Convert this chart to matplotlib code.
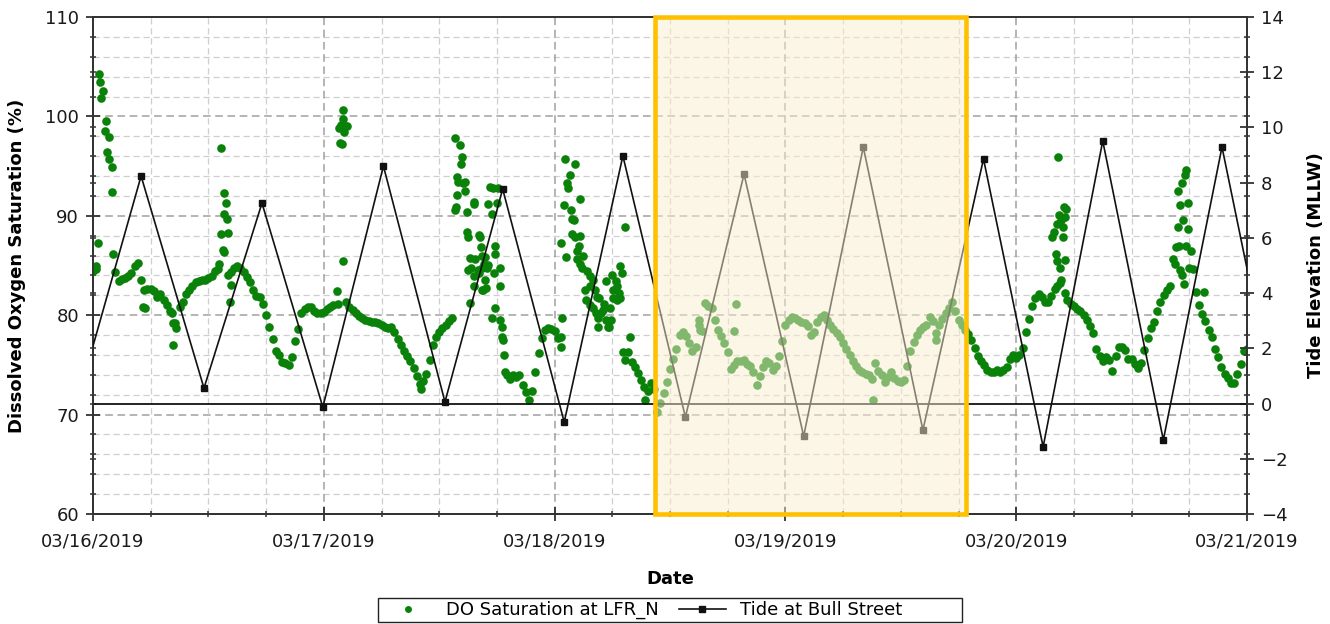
import datetime as dt
import numpy as np
import matplotlib
matplotlib.use("Agg")
import matplotlib.pyplot as plt
import matplotlib.dates as mdates
import matplotlib.transforms as mtransforms
from matplotlib.patches import Rectangle
from matplotlib.lines import Line2D
from matplotlib.ticker import FixedLocator, NullFormatter

# ---------------- data ----------------
START = dt.datetime(2019, 3, 16)
STEP_H = 20 / 60.0          # DO readings every 20 minutes (each row = 8 hours)

do_0316_a = [84.4, 85.0, 104.3, 102.6, 99.5, 97.9, 94.9, 84.3, 83.4, 83.6, 83.7, 83.9,
             84.2, 84.9, 85.3, 83.5, 82.5, 82.6, 82.6, 82.4, 81.8, 82.1, 81.5, 81.0]
do_0316_b = [80.4, 79.2, 78.7, 80.8, 81.3, 82.1, 82.5, 82.9, 83.3, 83.4, 83.5, 83.5,
             83.7, 83.9, 84.4, 84.6, 96.8, 90.2, 84.0, 84.3, 84.7, 85.0, 84.7, 84.3]
do_0316_c = [83.8, 83.3, 82.5, 81.9, 81.8, 81.1, 80.0, 78.8, 77.6, 76.4, 76.0, 75.3,
             75.2, 75.0, 75.8, 77.4, 78.6, 80.2, 80.6, 80.8, 80.8, 80.4, 80.2, 80.2]
do_0317_a = [80.3, 80.6, 80.8, 81.0, 82.4, 97.3, 100.6, 81.3, 80.8, 80.5, 80.2, 79.9,
             79.7, 79.5, 79.4, 79.3, 79.3, 79.2, 79.0, 78.8, 78.7, 78.8, 78.3, 77.6]
do_0317_b = [77.0, 76.4, 75.9, 75.4, 74.7, 73.9, 73.1, 73.4, 74.1, 75.5, 77.0, 77.8,
             78.3, 78.7, 79.0, 79.4, 79.7, 97.8, 93.4, 95.9, 92.5, 87.9, 84.7, 91.2]
do_0317_c = [84.5, 86.9, 85.2, 84.7, 92.9, 84.2, 91.3, 84.7, 77.5, 74.0, 73.6, 74.0,
             73.8, 74.0, 73.0, 72.3, 71.5, 72.4, 74.3, 76.2, 77.7, 78.5, 78.7, 78.6]
do_0318_a = [78.4, 77.7, 76.8, 91.1, 93.3, 90.6, 89.6, 86.5, 85.2, 86.0, 84.4, 82.9,
             80.7, 80.2, 81.7, 80.5, 83.4, 78.8, 84.0, 83.4, 82.2, 84.2, 75.5, 76.3]
do_0318_b = [75.3, 74.8, 74.2, 73.5, 72.8, 72.4, 73.2, 72.6, 70.3, 71.2, 72.2, 73.3,
             74.6, 75.6, 76.6, 78.0, 78.3, 77.9, 77.2, 76.4, 76.8, 79.0, 78.4, 81.2]
do_0318_c = [80.9, 80.7, 79.5, 78.5, 77.9, 77.2, 76.3, 74.6, 75.0, 75.4, 75.4, 75.5,
             75.1, 74.9, 74.3, 73.0, 73.9, 74.8, 75.4, 75.2, 74.5, 74.9, 75.9, 77.4]
do_0319_a = [79.0, 79.5, 79.8, 79.7, 79.5, 79.3, 79.2, 78.9, 78.0, 78.3, 79.3, 79.8,
             80.0, 79.5, 79.0, 78.6, 78.2, 77.8, 77.2, 76.6, 76.0, 75.4, 74.9, 74.5]
do_0319_b = [74.3, 74.1, 74.0, 73.6, 75.2, 74.4, 74.0, 73.3, 73.8, 74.3, 73.7, 73.4,
             73.3, 73.5, 74.9, 76.4, 77.3, 78.0, 78.5, 78.8, 79.0, 79.8, 79.4, 78.2]
do_0319_c = [79.0, 79.6, 80.2, 80.7, 81.3, 80.4, 79.5, 79.0, 78.5, 78.1, 77.5, 76.7,
             75.9, 75.4, 75.0, 74.5, 74.3, 74.3, 74.5, 74.3, 74.5, 74.8, 75.6, 76.0]
do_0320_a = [75.7, 76.0, 76.7, 78.3, 79.6, 80.9, 81.7, 82.1, 81.8, 81.3, 81.3, 81.9,
             82.6, 95.9, 89.6, 90.9, 81.5, 81.1, 80.9, 80.6, 80.4, 80.0, 79.5, 78.9]
do_0320_b = [78.2, 76.6, 75.9, 75.4, 75.8, 75.5, 74.4, 75.9, 76.8, 76.8, 76.5, 75.6,
             75.6, 75.1, 74.7, 75.2, 76.5, 77.7, 78.7, 79.3, 80.4, 81.3, 82.0, 82.5]
do_0320_c = [82.9, 85.7, 86.9, 91.1, 89.6, 94.6, 84.7, 84.6, 82.3, 81.0, 80.1, 79.4,
             78.5, 77.8, 76.6, 75.8, 74.8, 74.1, 73.7, 73.2, 73.2, 74.1, 75.1, 76.4, 76.6]

# additional (scattered) DO readings: hours after 03/16/2019 00:00 and % saturation
do_extra_hours = [0.3, 0.55, 0.75, 0.85, 1.2, 1.5, 1.7, 2.0, 2.1, 5.2, 5.4, 8.2, 8.35, 8.5,
                  13.1, 13.3, 13.5, 13.6, 13.6, 13.8, 13.9, 14.0, 14.2, 14.3,
                  25.5, 25.6, 25.8, 25.9, 26.0, 26.1, 26.2, 26.4, 26.0, 34.1,
                  37.6, 37.7, 37.8, 37.9, 38.2, 38.3, 38.5, 38.7, 38.9, 38.9, 39.0, 39.2,
                  39.2, 39.6, 39.7, 39.6, 39.6, 40.1, 40.1, 40.4, 40.4, 40.2, 40.8, 40.4,
                  40.8, 40.6, 40.9, 41.1, 41.1, 41.5, 41.6, 42.1, 41.8, 41.8, 42.3, 41.8,
                  41.5, 42.3, 42.5, 42.5, 42.7, 42.8,
                  48.7, 48.8, 48.7, 49.1, 49.2, 49.4, 49.6, 49.8, 49.8, 50.1, 50.1, 50.3,
                  50.5, 50.6, 50.6, 50.8, 51.2, 51.3, 51.7, 51.7, 52.0, 52.2, 52.4, 52.5,
                  52.5, 52.8, 53.1, 53.3, 53.6, 53.8, 53.9, 54.1, 54.1, 54.5, 54.5, 54.8,
                  54.8, 55.1, 55.3, 55.8, 57.4,
                  63.0, 63.1, 66.7, 66.9, 81.1, 87.7,
                  99.7, 99.9, 100.1, 100.2, 100.2, 100.4, 100.6, 100.6, 100.9, 100.9,
                  101.1, 101.1, 101.2, 100.7, 101.1, 100.2,
                  112.5, 112.8, 112.8, 112.9, 113.0, 113.2, 113.2, 113.5, 113.6, 113.7,
                  113.9, 113.9, 114.2, 115.5]
do_extra_values = [84.6, 87.3, 103.5, 101.9, 98.5, 96.4, 95.7, 92.4, 86.2, 80.8, 80.7, 80.2, 77.0, 79.2,
                   85.2, 88.2, 86.6, 86.4, 92.3, 91.3, 89.7, 88.3, 81.3, 83.0,
                   81.1, 98.8, 99.1, 97.2, 99.7, 98.4, 99.0, 99.0, 85.5, 72.6,
                   90.6, 90.9, 92.1, 93.9, 97.1, 95.2, 93.3, 93.4, 90.4, 88.4, 84.5, 85.8,
                   81.2, 91.4, 85.7, 83.9, 82.9, 88.1, 84.2, 86.0, 82.5, 87.9, 85.9, 84.7,
                   83.5, 82.5, 82.7, 85.1, 91.2, 90.2, 92.8, 92.8, 86.2, 87.0, 82.9, 80.7,
                   79.7, 79.5, 78.8, 77.8, 76.0, 74.3,
                   87.3, 79.7, 77.8, 95.7, 85.9, 92.8, 94.1, 89.7, 88.2, 95.2, 87.9, 85.7,
                   87.0, 91.7, 88.0, 84.7, 82.5, 81.5, 83.9, 81.0, 83.5, 82.5, 81.8, 79.7,
                   78.8, 80.2, 81.1, 79.5, 78.8, 80.7, 79.5, 81.7, 82.5, 82.9, 81.5, 81.7,
                   85.0, 76.3, 88.9, 77.8, 71.5,
                   79.5, 78.5, 78.4, 81.1, 71.5, 77.5,
                   87.9, 88.4, 86.2, 89.2, 85.5, 90.1, 84.7, 83.2, 87.9, 88.9,
                   85.6, 89.9, 90.7, 83.5, 82.2, 82.9,
                   85.2, 92.5, 88.9, 87.0, 84.5, 93.3, 84.0, 83.1, 94.1, 87.0,
                   91.3, 88.7, 86.5, 82.3]

# tide extremes at Bull Street: hours after 03/16/2019 00:00 and elevation (ft MLLW)
tide_hours = [-2.1, 5.0, 11.54, 17.57, 23.9, 30.2, 36.6, 42.6, 49.0, 55.1, 61.6,
              67.7, 73.9, 80.1, 86.3, 92.6, 98.8, 105.0, 111.3, 117.4, 123.6]
tide_values = [-0.5, 8.24, 0.56, 7.26, -0.13, 8.60, 0.06, 7.77, -0.67, 8.97, -0.49,
               8.31, -1.18, 9.29, -0.96, 8.86, -1.57, 9.51, -1.32, 9.29, -1.2]

day_labels = ["03/16/2019", "03/17/2019", "03/18/2019", "03/19/2019", "03/20/2019", "03/21/2019"]
series_names = ["DO Saturation at LFR_N", "Tide at Bull Street"]
highlight_hours = [58.45, 90.8]

# ---------------- assemble ----------------
do_rows = [do_0316_a, do_0316_b, do_0316_c, do_0317_a, do_0317_b, do_0317_c,
           do_0318_a, do_0318_b, do_0318_c, do_0319_a, do_0319_b, do_0319_c,
           do_0320_a, do_0320_b, do_0320_c]
do_h, do_v = [], []
for i, row in enumerate(do_rows):
    for j, v in enumerate(row):
        do_h.append(i * 8 + j * STEP_H)
        do_v.append(v)
do_h += do_extra_hours
do_v += do_extra_values

t0 = mdates.date2num(START)
to_x = lambda h: t0 + np.asarray(h, dtype=float) / 24.0

# ---------------- figure ----------------
plt.rcParams["font.family"] = ["DejaVu Sans"]
W, H = 1330, 624
fig = plt.figure(figsize=(W / 100, H / 100), dpi=100)
ax = fig.add_axes([93 / W, 1 - 514 / H, (1247 - 93) / W, (514 - 17) / H])
ax2 = ax.twinx()

ax.set_xlim(t0, t0 + len(day_labels) - 1)
ax.set_ylim(60, 110)
ax2.set_ylim(-4, 14)

# grid (dashed)
for v in np.arange(62, 110, 2):
    major = (v % 10 == 0)
    ax.axhline(v, color="#a0a0a0" if major else "#cfcfcf", lw=1.1 if major else 0.9,
               ls=(0, (5, 3)), zorder=0)
for d in np.arange(0.25, len(day_labels) - 1, 0.25):
    major = abs(d - round(d)) < 1e-9
    ax.axvline(t0 + d, color="#a0a0a0" if major else "#cfcfcf", lw=1.1 if major else 0.9,
               ls=(0, (5, 3)), zorder=0)

# DO scatter
ax.plot(to_x(do_h), do_v, "o", color="#0a820a", ms=6.2, mew=0, zorder=3, clip_on=True)

# zero line and tide
ax2.axhline(0, color="#111111", lw=1.3, zorder=2)
ax2.plot(to_x(tide_hours), tide_values, color="#111111", lw=1.2, marker="s", ms=5,
         mfc="#111111", mec="#111111", zorder=4)

# highlight box
trans = mtransforms.blended_transform_factory(ax2.transData, ax2.transAxes)
hx0, hx1 = to_x(highlight_hours)
ax2.add_patch(Rectangle((hx0, 0), hx1 - hx0, 1, transform=trans,
                        facecolor=(250/255, 238/255, 208/255), alpha=0.5,
                        edgecolor="none", zorder=8))
ax2.add_patch(Rectangle((hx0, 0), hx1 - hx0, 1, transform=trans, fill=False,
                        edgecolor="#FFC000", lw=3.3, zorder=9, clip_on=False))

# ticks
ax.xaxis.set_major_locator(FixedLocator([t0 + i for i in range(len(day_labels))]))
ax.xaxis.set_minor_locator(FixedLocator(list(t0 + np.arange(0.25, len(day_labels) - 1, 0.25))))
ax.set_xticklabels(day_labels)
ax.xaxis.set_minor_formatter(NullFormatter())

do_to_tide = lambda d: -4 + (np.asarray(d) - 60) * 18.0 / 50.0
tide_to_do = lambda t: 60 + (np.asarray(t) + 4) * 50.0 / 18.0

ax.yaxis.set_major_locator(FixedLocator(np.arange(60, 111, 10)))
left_minor = [v for v in np.arange(62, 110, 2) if v % 10 != 0] + \
             list(tide_to_do(np.arange(-2, 14, 2)))
ax.yaxis.set_minor_locator(FixedLocator(left_minor))
ax2.yaxis.set_major_locator(FixedLocator(np.arange(-4, 15, 2)))
ax2.yaxis.set_minor_locator(FixedLocator(list(do_to_tide(np.arange(62, 110, 2)))))

tick_col = "#333333"
ax.tick_params(axis="both", which="major", direction="inout", length=10, width=1.3,
               colors=tick_col, labelsize=13, labelcolor="#1a1a1a")
ax.tick_params(axis="y", which="major", pad=5)
ax.tick_params(axis="x", which="major", pad=8)
ax.tick_params(axis="both", which="minor", direction="inout", length=5, width=1.1,
               colors=tick_col)
ax2.tick_params(axis="y", which="major", direction="inout", length=10, width=1.3,
                colors=tick_col, labelsize=13, labelcolor="#1a1a1a", pad=5)
ax2.tick_params(axis="y", which="minor", direction="inout", length=5, width=1.1, colors=tick_col)

for a in (ax, ax2):
    for s in a.spines.values():
        s.set_color("#333333")
        s.set_linewidth(1.3)

ax.set_xlabel("Date", fontsize=13, fontweight="bold", labelpad=14)
ax.set_ylabel("Dissolved Oxygen Saturation (%)", fontsize=13, fontweight="bold", labelpad=14)
ax2.set_ylabel("Tide Elevation (MLLW)", fontsize=13, fontweight="bold", labelpad=14)

# legend (box drawn separately to match the wide frame of the original)
handles = [Line2D([], [], ls="none", marker="o", color="#0a820a", ms=5, mew=0),
           Line2D([], [], color="#111111", lw=1.2, marker="s", ms=4, mfc="#111111")]
leg = fig.legend(handles, series_names, loc="center left",
                 bbox_to_anchor=(385 / W, 1 - 610 / H), ncol=2, fontsize=13,
                 frameon=False, borderpad=0, borderaxespad=0,
                 handlelength=2.6, handletextpad=0.8, columnspacing=1.1)
fig.patches.append(Rectangle((378 / W, 1 - 622 / H), (962 - 378) / W, 24 / H,
                             transform=fig.transFigure, fill=False,
                             edgecolor="#222222", lw=1.0))

fig.savefig("out.png", dpi=100)
